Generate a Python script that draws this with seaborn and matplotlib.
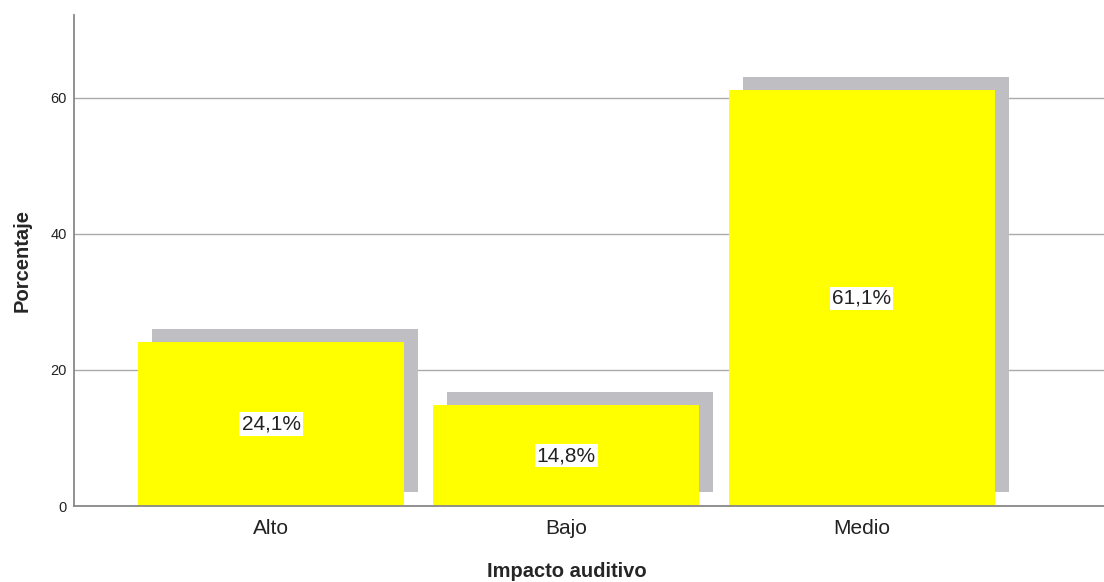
import matplotlib
matplotlib.use("Agg")
from matplotlib import pyplot as plt
import numpy as np
import pandas as pd
import seaborn as sns

# data
categorias = ["Alto", "Bajo", "Medio"]
porcentajes = [24.1, 14.8, 61.1]
etiquetas = ["24,1%", "14,8%", "61,1%"]

df = pd.DataFrame({"Impacto auditivo": categorias, "Porcentaje": porcentajes})

sns.set_style("white")
plt.rcParams["font.family"] = ["Liberation Sans", "DejaVu Sans"]

fig = plt.figure(figsize=(11.04, 5.82), dpi=100)
ax = fig.add_axes([74 / 1104, 76 / 582, 1 - 74 / 1104, 491 / 582])

# gray drop shadow behind each bar
dx, dy = 0.047, 2.0
ax.bar(np.arange(len(categorias)) + dx, porcentajes, width=0.9, bottom=dy,
       color="#bfbfc3", zorder=1, linewidth=0)

sns.barplot(data=df, x="Impacto auditivo", y="Porcentaje", ax=ax,
            color="#ffff00", saturation=1, width=0.9, zorder=2, linewidth=0)

for i, (v, t) in enumerate(zip(porcentajes, etiquetas)):
    ax.text(i, v / 2, t, ha="center", va="center", fontsize=15, color="#222222",
            zorder=4, bbox=dict(facecolor="white", edgecolor="none", pad=1.5))

ax.set_xlim(-0.667, 2.82)
ax.set_ylim(0, 72.2)
ax.set_yticks([0, 20, 40, 60])
ax.yaxis.grid(True, color="#aaaaaa", linewidth=1)
ax.set_axisbelow(True)
for s in ["top", "right"]:
    ax.spines[s].set_visible(False)
for s in ["left", "bottom"]:
    ax.spines[s].set_color("#888888")
    ax.spines[s].set_linewidth(1.3)
ax.tick_params(axis="y", length=0, labelsize=10.5, pad=5, colors="#222222")
ax.tick_params(axis="x", length=0, labelsize=15, pad=9, colors="#222222")
ax.set_xlabel("Impacto auditivo", fontsize=14.5, fontweight="bold")
ax.set_ylabel("Porcentaje", fontsize=14.5, fontweight="bold", labelpad=14)
# x title sits over the categories, not the full axis width
ax.xaxis.set_label_coords(0.478, -0.115)

fig.savefig("out.png", dpi=100, facecolor="white")
